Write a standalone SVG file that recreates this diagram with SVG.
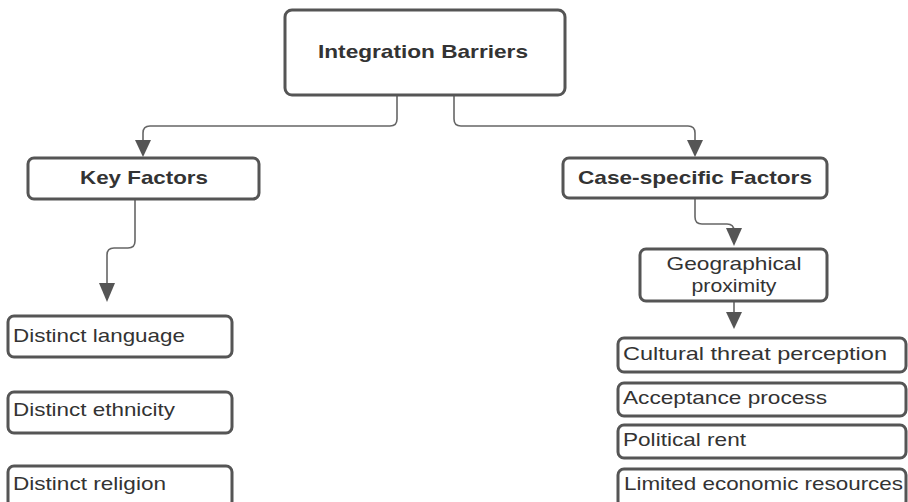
<svg xmlns="http://www.w3.org/2000/svg" width="908" height="502" viewBox="0 0 908 502">
  <style>
    .box { fill: #ffffff; stroke: #555555; stroke-width: 3; }
    .link { fill: none; stroke: #666666; stroke-width: 1.6; }
    .head { fill: #555555; stroke: none; }
    .t { font-family: "Liberation Sans", Arial, sans-serif; font-size: 19px; fill: #333333; }
    .b { font-weight: bold; font-size: 18.5px; }
  </style>
  <rect width="908" height="502" fill="#ffffff"/>

  <!-- connectors -->
  <g id="connectors">
    <path class="link" d="M397,95 V119 Q397,126 390,126 H150 Q143,126 143,133 V142"/>
    <polygon class="head" points="135,140 151,140 143,157"/>
    <path class="link" d="M454,95 V119 Q454,126 461,126 H688 Q695,126 695,133 V142"/>
    <polygon class="head" points="687,140 703,140 695,157"/>
    <path class="link" d="M135,199 V241 Q135,248 128,248 H114 Q107,248 107,255 V285"/>
    <polygon class="head" points="99,283 115,283 107,302"/>
    <path class="link" d="M695,198 V217 Q695,224 702,224 H727 Q734,224 734,231"/>
    <polygon class="head" points="726,228 742,228 734,246"/>
    <path class="link" d="M734,301 V314"/>
    <polygon class="head" points="726,312 742,312 734,329"/>
  </g>

  <!-- root -->
  <g id="integration-barriers">
    <rect class="box" x="285" y="10" width="280" height="85" rx="7"/>
    <text class="t b" x="423" y="58" text-anchor="middle" textLength="210" lengthAdjust="spacingAndGlyphs">Integration Barriers</text>
  </g>

  <!-- first level -->
  <g id="key-factors">
    <rect class="box" x="28" y="158" width="231" height="41" rx="6"/>
    <text class="t b" x="144" y="184" text-anchor="middle" textLength="128" lengthAdjust="spacingAndGlyphs">Key Factors</text>
  </g>
  <g id="case-specific-factors">
    <rect class="box" x="563" y="158" width="264" height="40" rx="6"/>
    <text class="t b" x="695" y="184" text-anchor="middle" textLength="234" lengthAdjust="spacingAndGlyphs">Case-specific Factors</text>
  </g>
  <g id="geographical-proximity">
    <rect class="box" x="640" y="249" width="187" height="52" rx="6"/>
    <text class="t" x="734" y="270" text-anchor="middle" textLength="135" lengthAdjust="spacingAndGlyphs">Geographical</text>
    <text class="t" x="734" y="292" text-anchor="middle" textLength="85" lengthAdjust="spacingAndGlyphs">proximity</text>
  </g>

  <!-- key factor items -->
  <g id="distinct-language">
    <rect class="box" x="8" y="316" width="224" height="41" rx="6"/>
    <text class="t" x="13" y="342" textLength="172" lengthAdjust="spacingAndGlyphs">Distinct language</text>
  </g>
  <g id="distinct-ethnicity">
    <rect class="box" x="8" y="392" width="224" height="41" rx="6"/>
    <text class="t" x="13" y="416" textLength="162" lengthAdjust="spacingAndGlyphs">Distinct ethnicity</text>
  </g>
  <g id="distinct-religion">
    <rect class="box" x="8" y="466" width="224" height="41" rx="6"/>
    <text class="t" x="13" y="490" textLength="153" lengthAdjust="spacingAndGlyphs">Distinct religion</text>
  </g>

  <!-- case-specific items -->
  <g id="cultural-threat-perception">
    <rect class="box" x="618" y="338" width="288" height="34" rx="6"/>
    <text class="t" x="623" y="360" textLength="264" lengthAdjust="spacingAndGlyphs">Cultural threat perception</text>
  </g>
  <g id="acceptance-process">
    <rect class="box" x="618" y="383" width="288" height="33" rx="6"/>
    <text class="t" x="623" y="404" textLength="204" lengthAdjust="spacingAndGlyphs">Acceptance process</text>
  </g>
  <g id="political-rent">
    <rect class="box" x="618" y="425" width="288" height="33" rx="6"/>
    <text class="t" x="623" y="446" textLength="123" lengthAdjust="spacingAndGlyphs">Political rent</text>
  </g>
  <g id="limited-economic-resources">
    <rect class="box" x="618" y="469" width="288" height="38" rx="6"/>
    <text class="t" x="624" y="490" textLength="279" lengthAdjust="spacingAndGlyphs">Limited economic resources</text>
  </g>
</svg>
